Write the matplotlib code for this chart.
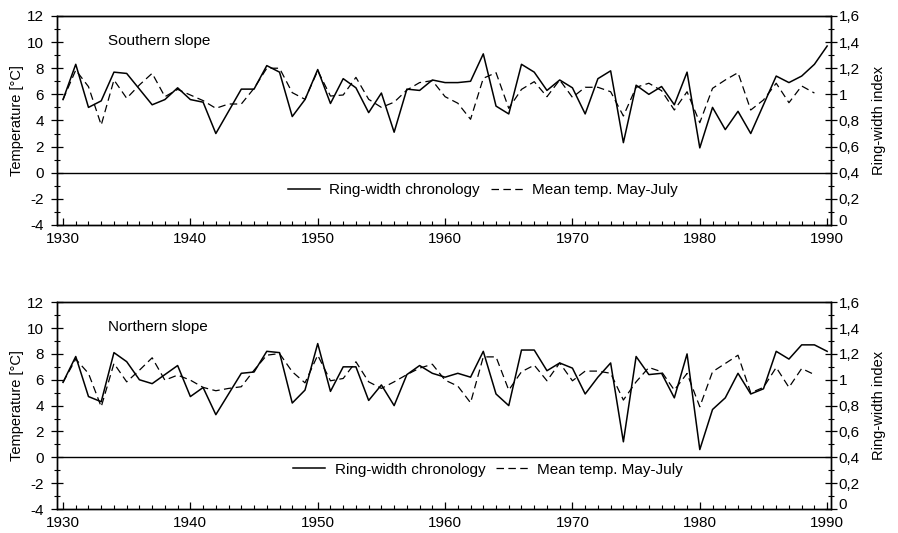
import matplotlib.pyplot as plt
import matplotlib.transforms as mtransforms
import numpy as np
from matplotlib.lines import Line2D
from matplotlib.ticker import MultipleLocator, FuncFormatter

plt.rcParams["font.family"] = ["Liberation Sans", "DejaVu Sans"]
plt.rcParams["axes.unicode_minus"] = False

years = np.arange(1930, 1991)
temp_years = np.arange(1930, 1990)

# Southern slope
south_ring = [0.96, 1.23, 0.90, 0.95, 1.17, 1.16, 1.04, 0.92, 0.96, 1.05,
              0.96, 0.94, 0.70, 0.87, 1.04, 1.04, 1.22, 1.17, 0.83, 0.96,
              1.19, 0.93, 1.12, 1.05, 0.86, 1.01, 0.71, 1.04, 1.03, 1.11,
              1.09, 1.09, 1.10, 1.31, 0.91, 0.85, 1.23, 1.17, 1.03, 1.11,
              1.05, 0.85, 1.12, 1.18, 0.63, 1.07, 1.00, 1.06, 0.92, 1.17,
              0.59, 0.90, 0.73, 0.87, 0.70, 0.92, 1.14, 1.09, 1.14, 1.23,
              1.37]
south_temp = [5.6, 7.86, 6.59, 3.65, 7.1, 5.7, 6.72, 7.61, 5.82, 6.38,
              5.95, 5.52, 4.93, 5.26, 5.26, 6.46, 8.0, 8.0, 6.13, 5.62,
              7.81, 5.87, 5.95, 7.3, 5.62, 5.0, 5.4, 6.33, 6.9, 7.05,
              5.82, 5.32, 4.09, 7.23, 7.66, 4.93, 6.38, 6.97, 5.82, 7.1,
              5.77, 6.54, 6.54, 6.2, 4.34, 6.54, 6.85, 6.28, 4.8, 6.2,
              3.83, 6.46, 7.1, 7.66, 4.8, 5.57, 6.85, 5.36, 6.64, 6.1]

# Northern slope
north_ring = [0.98, 1.18, 0.87, 0.83, 1.21, 1.14, 1.00, 0.97, 1.04, 1.11,
              0.87, 0.94, 0.73, 0.89, 1.05, 1.06, 1.22, 1.21, 0.82, 0.92,
              1.28, 0.91, 1.10, 1.10, 0.84, 0.96, 0.80, 1.04, 1.11, 1.05,
              1.02, 1.05, 1.02, 1.22, 0.89, 0.80, 1.23, 1.23, 1.07, 1.13,
              1.09, 0.89, 1.02, 1.13, 0.52, 1.18, 1.04, 1.05, 0.86, 1.20,
              0.46, 0.77, 0.86, 1.05, 0.89, 0.93, 1.22, 1.16, 1.27, 1.27,
              1.22]
north_temp = [5.8, 7.6, 6.49, 3.91, 7.26, 5.84, 6.74, 7.7, 5.97, 6.36,
              5.97, 5.41, 5.15, 5.33, 5.46, 6.74, 7.9, 8.03, 6.62, 5.76,
              7.9, 5.92, 6.1, 7.39, 5.84, 5.33, 5.84, 6.4, 6.9, 7.2,
              5.97, 5.51, 4.22, 7.77, 7.77, 5.2, 6.62, 7.13, 5.92, 7.3,
              5.92, 6.67, 6.67, 6.5, 4.43, 5.84, 6.95, 6.62, 5.2, 6.49,
              3.91, 6.62, 7.26, 7.9, 4.99, 5.41, 6.95, 5.41, 6.87, 6.4]

panels = [
    ("Southern slope", south_ring, south_temp, [0.0635, 0.578, 0.862, 0.392], (0.55, 0.165)),
    ("Northern slope", north_ring, north_temp, [0.0635, 0.045, 0.862, 0.388], (0.557, 0.19)),
]

dash = (0, (6, 3.5))


def ring_fmt(v, pos):
    if abs(v) < 1e-9:
        return "0"
    if abs(v - 1) < 1e-9:
        return "1"
    return f"{v:.1f}".replace(".", ",")


fig = plt.figure(figsize=(8.98, 5.33), dpi=100)
nudge_up = mtransforms.ScaledTranslation(0, 4 / 72, fig.dpi_scale_trans)

for title, ring, temp, rect, leg_pos in panels:
    ax = fig.add_axes(rect)
    ax2 = ax.twinx()

    ax.plot(temp_years, temp, color="black", lw=0.9, linestyle=dash)
    ax2.plot(years, ring, color="black", lw=1.1)
    ax.axhline(0, color="black", lw=1.0)

    ax.set_xlim(1929.53, 1990.31)
    ax.set_ylim(-4, 12)
    ax2.set_ylim(0, 1.6)

    ax.xaxis.set_major_locator(MultipleLocator(10))
    ax.xaxis.set_minor_locator(MultipleLocator(1))
    ax.yaxis.set_major_locator(MultipleLocator(2))
    ax.yaxis.set_minor_locator(MultipleLocator(1))
    ax2.yaxis.set_major_locator(MultipleLocator(0.2))
    ax2.yaxis.set_minor_locator(MultipleLocator(0.1))
    ax2.yaxis.set_major_formatter(FuncFormatter(ring_fmt))

    ax.tick_params(axis="x", which="major", direction="in", length=5, width=0.9,
                   labelsize=11, pad=5)
    ax.tick_params(axis="x", which="minor", direction="in", length=3, width=0.8)
    ax.tick_params(axis="y", which="major", direction="inout", length=9, width=0.9,
                   labelsize=11, pad=5)
    ax.tick_params(axis="y", which="minor", direction="inout", length=5, width=0.8)
    ax2.tick_params(axis="y", which="major", direction="inout", length=9, width=0.9,
                    labelsize=11, pad=1)
    ax2.tick_params(axis="y", which="minor", direction="inout", length=5, width=0.8)

    for a in (ax, ax2):
        for s in a.spines.values():
            s.set_linewidth(1.0)

    ax.set_ylabel("Temperature [°C]", fontsize=10.5, labelpad=2)
    ax2.set_ylabel("Ring-width index", fontsize=10.5, labelpad=9)

    ax.text(1933.5, 10.1, title, fontsize=11, va="center", ha="left")

    handles = [Line2D([], [], color="black", lw=1.1),
               Line2D([], [], color="black", lw=0.9, linestyle=dash)]
    ax.legend(handles, ["Ring-width chronology", "Mean temp. May-July"],
              loc="center", bbox_to_anchor=leg_pos, ncol=2, frameon=False,
              fontsize=11, handlelength=2.1, handletextpad=0.6, columnspacing=0.7,
              borderpad=0)

    # lift the lowest right-axis label a little, as in the original
    fig.canvas.draw()
    for t in ax2.yaxis.get_majorticklabels():
        if t.get_text() == "0":
            t.set_transform(t.get_transform() + nudge_up)

fig.savefig("out.png", dpi=100)
